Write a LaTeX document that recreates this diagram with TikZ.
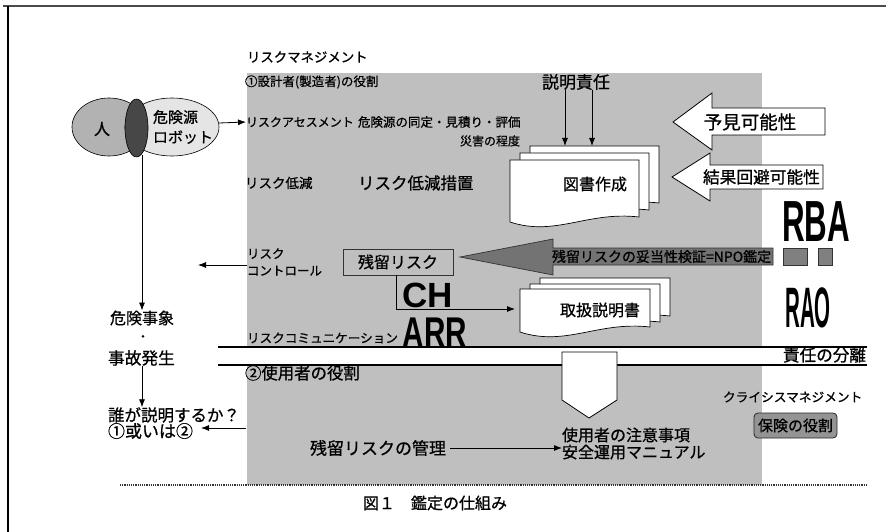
\documentclass[tikz,border=0pt]{standalone}
\usepackage{fontspec}
\setmainfont{Noto Sans CJK JP}[FakeBold=0.8]
\newfontfamily\latf{Liberation Sans}
\usetikzlibrary{arrows.meta}
\newcommand\mydoc[4]{\filldraw[docst] (#1,#2) -- (#1+#3,#2) -- (#1+#3,#2+#4) .. controls (#1+0.6*#3,#2+#4-6) and (#1+0.35*#3,#2+#4+20) .. (#1,#2+#4+5) -- cycle;}
\begin{document}
\begin{tikzpicture}[x=1pt,y=-1pt,
  every node/.style={inner sep=0pt, outer sep=0pt},
  fs/.style={font=\fontsize{#1}{#1}\selectfont},
  arr/.style={-{Latex[length=8pt,width=6pt]}, line width=0.8pt},
  docst/.style={fill=white, draw=black, line width=0.7pt},
  blockarrow/.style={fill=white, draw=black, line width=0.8pt},
  bigletters/.style={font=\latf\bfseries\fontsize{#1}{#1}\selectfont},
]
\useasboundingbox (0,0) rectangle (889,532);
% frame
\draw[line width=1.2pt, black!70] (3,6) -- (886,6);
\draw[line width=1.2pt] (8,6) -- (8,532);
% gray region
\fill[black!25] (247,73) rectangle (762,485);
\fill[white] (247,347) rectangle (762,365);
\draw[line width=1.2pt, densely dotted, black!80] (120,485) -- (867,485);
\draw[line width=2.5pt] (218,347) -- (867,347);
\draw[line width=2.5pt] (218,365) -- (867,365);

% ellipses
\filldraw[fill=black!30, line width=0.6pt] (109,127) ellipse [x radius=37, y radius=29];
\filldraw[fill=black!10, line width=0.6pt] (172,127) ellipse [x radius=47, y radius=29];
\filldraw[fill=black!72, line width=0.6pt] (136.5,128) ellipse [x radius=11.5, y radius=29];
\node[fs=16] (hito) at (102,129) {人};
\node[font=\fontsize{15}{20}\selectfont, align=left] (robot) at (183,127) {危険源\\ロボット};
\coordinate (robotE) at (219,123);
\coordinate (lensbot) at (142,155);

% titles
\node[fs=13.4, anchor=west] (rm) at (247,57) {リスクマネジメント};
\node[fs=12.5, anchor=west] (role1) at (245,82) {①設計者(製造者)の役割};
\node[fs=12, anchor=west] (ra) at (246,122) {リスクアセスメント};
\node[fs=12.5, anchor=west] (hazard) at (358,122) {危険源の同定・見積り・評価};
\node[fs=12, anchor=east] (damage) at (520,141) {災害の程度};
\node[fs=13.5, anchor=west] (rr) at (245,183) {リスク低減};
\node[fs=16.5, anchor=west] (rrm) at (358,183) {リスク低減措置};
\node[fs=17, anchor=west] (acc) at (542,82) {説明責任};

\draw[arr] (robotE) -- (ra.west);

% document stack 1
\mydoc{530}{146}{129}{57}
\mydoc{520}{153}{129}{57}
\mydoc{510}{160}{129}{57}
\node[fs=16] (zusho) at (595,184) {図書作成};
\coordinate (d1) at (565,146);
\coordinate (d2) at (592,146);
\draw[arr] (acc.south -| d1) -- (d1);
\draw[arr] (acc.south -| d2) -- (d2);

% block arrows
\draw[blockarrow] (673,122) -- (712,93) -- (712,108) -- (825,108) -- (825,135) -- (712,135) -- (712,150) -- cycle;
\node[fs=18.5] (yoken) at (750,122) {予見可能性};
\draw[blockarrow] (672,177) -- (710,153) -- (710,165) -- (823,165) -- (823,189) -- (710,189) -- (710,201) -- cycle;
\node[fs=16.7, anchor=west] (kekka) at (703,177) {結果回避可能性};

% RBA / RAO
\node[bigletters=58] (rba) at (816,222) {\scalebox{0.54}[1]{RBA}};
\node[bigletters=57] (rao) at (808,308) {\scalebox{0.36}[1]{RAO}};
\filldraw[fill=black!50, draw=black!80, line width=0.6pt] (783,248) rectangle (807,265);
\filldraw[fill=black!50, draw=black!80, line width=0.6pt] (818,248) rectangle (832,265);

% residual risk
\node[draw=black!80, line width=0.6pt, minimum width=110, minimum height=26, fs=16] (zanryu) at (398,262) {残留リスク};
\filldraw[fill=black!55, draw=black!80, line width=0.7pt] (460,257) -- (553,239) -- (553,248) -- (773,248) -- (773,265) -- (553,265) -- (553,275) -- cycle;
\node[fs=14, anchor=west] (npo) at (552,256.5) {残留リスクの妥当性検証=NPO鑑定};

\node[font=\fontsize{12.5}{17}\selectfont, align=left, anchor=west] (rc) at (247,262) {リスク\\コントロール};
\coordinate (rcend) at (198,265);
\draw[arr] (rc.west |- rcend) -- (rcend);

\node[bigletters=35] (ch) at (428,295) {CH};
\node[bigletters=43] (arrtxt) at (435,333) {\scalebox{0.69}[1]{ARR}};
\node[fs=12.6, anchor=west] (rcomm) at (247,338) {リスクコミュニケーション};

% document stack 2
\mydoc{540}{278}{130}{38}
\mydoc{530}{284}{130}{38}
\mydoc{520}{289}{130}{38}
\node[fs=16] (tori) at (600,310) {取扱説明書};
\coordinate (zb) at (396,275);
\coordinate (toriW) at (515,309);
\draw[arr] (zb) |- (toriW);

\node[fs=16.6, anchor=east] (sekinin) at (866,355) {責任の分離};

% pentagon
\draw[blockarrow] (562,352) -- (617,352) -- (617,400) -- (589,418) -- (562,400) -- cycle;

% lower part
\node[fs=16.4, anchor=west] (role2) at (245,373) {②使用者の役割};
\node[fs=17, anchor=west] (manage) at (310,448) {残留リスクの管理};
\node[font=\fontsize{16}{17}\selectfont, align=left, anchor=west] (user) at (562,443.5) {使用者の注意事項\\安全運用マニュアル};
\draw[arr] (manage.east) ++(4,0) coordinate (mg) (mg) -- (user.west |- mg);
\node[fs=12.7, anchor=west] (crisis) at (723,397) {クライシスマネジメント};
\node[draw=black!85, fill=black!42, rounded corners=4pt, line width=0.8pt, minimum width=83, minimum height=25, fs=15] (hoken) at (795.5,425.5) {保険の役割};

% left column
\node[fs=16, anchor=west] (kiken) at (110,318) {危険事象};
\node[fs=12] (dot) at (143,338) {・};
\node[fs=16.7, anchor=west] (jiko) at (108,358) {事故発生};
\node[fs=16.5, anchor=west] (dare) at (108,415) {誰が説明するか？};
\node[fs=17, anchor=west] (oroi) at (108,431) {①或いは②};
\draw[arr] (lensbot) -- (lensbot |- kiken.north);
\draw[arr] (jiko.south -| lensbot) -- (lensbot |- dare.north);
\coordinate (gl2) at (246,428);
\draw[arr] (gl2) -- ([xshift=8pt]oroi.east |- gl2);

% caption
\node[fs=16] (caption) at (435,503) {図１　鑑定の仕組み};
\end{tikzpicture}
\end{document}
